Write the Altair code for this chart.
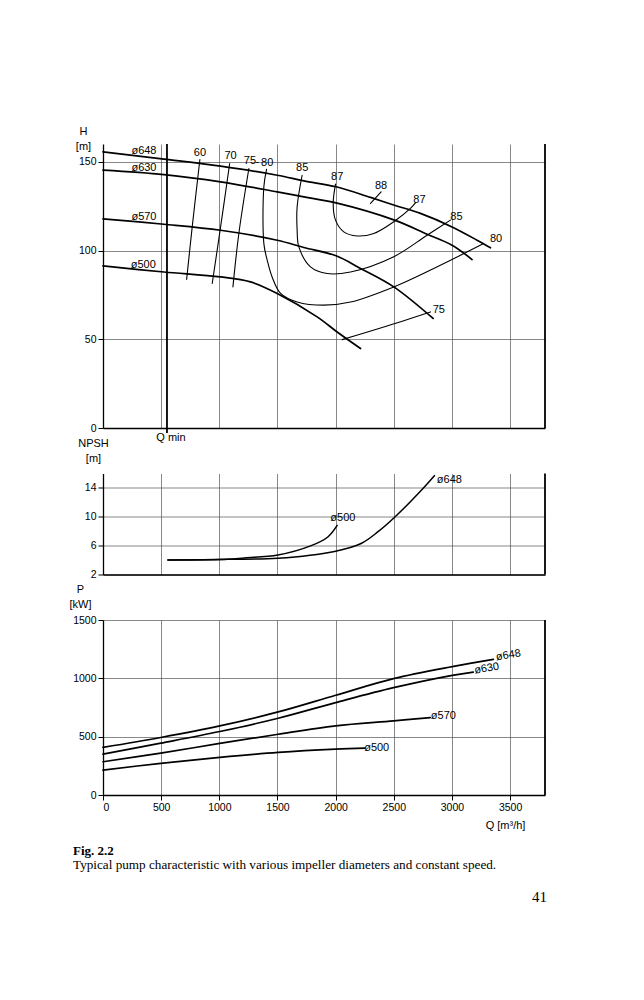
import altair as alt
import pandas as pd

# ---------------- data ----------------
Q_MAX = 3800
Q_MIN = 550
GRID_Q = [500, 1000, 1500, 2000, 2500, 3000, 3500]
TICK_Q = [0, 500, 1000, 1500, 2000, 2500, 3000, 3500]

# H-Q curves (impeller diameters)
H_NAMES = ["d648", "d630", "d570", "d500"]
H648_Q = [0, 524, 1011, 1498, 1727, 2004, 2300, 2506, 2729, 3001, 3216, 3331]
H648_V = [155.6, 151.5, 147.5, 142.4, 139.2, 135.9, 129.9, 125.5, 120.9, 113.3, 105.8, 101.5]
H630_Q = [0, 524, 1011, 1498, 1727, 2004, 2506, 2786, 3001, 3173]
H630_V = [145.3, 142.8, 138.7, 133.0, 130.2, 126.8, 117.1, 109.2, 103.0, 94.9]
H570_Q = [0, 524, 1011, 1498, 1727, 2004, 2214, 2500, 2838]
H570_V = [117.8, 114.8, 111.4, 105.8, 101.7, 97.0, 89.9, 79.5, 61.7]
H500_Q = [0, 524, 1011, 1268, 1498, 1841, 2013, 2214]
H500_V = [91.3, 87.9, 85.1, 82.3, 75.8, 62.6, 54.1, 44.8]

# iso-efficiency contours
E_NAMES = ["e60", "e70", "e75", "e80", "e85", "e87", "e88", "e75b"]
E60_Q = [833, 767, 719]
E60_V = [151.3, 113.3, 83.7]
E70_Q = [1089, 1011, 939]
E70_V = [149.0, 113.3, 81.4]
E75_Q = [1254, 1168, 1117]
E75_V = [146.2, 109.6, 79.5]
E80_Q = [1406, 1383, 1383, 1412, 1454, 1527, 1669, 1899, 2128, 2500, 2844, 3273]
E80_V = [145.7, 135.9, 103.9, 94.5, 85.1, 75.8, 71.0, 69.2, 71.0, 79.5, 89.9, 103.9]
E85_Q = [1712, 1669, 1669, 1684, 1784, 1927, 2128, 2500, 2786, 2987]
E85_V = [142.4, 124.6, 111.4, 102.0, 90.8, 87.0, 87.9, 96.5, 108.6, 117.1]
E87_Q = [1999, 1979, 1999, 2070, 2185, 2328, 2506, 2643, 2686]
E87_V = [137.4, 126.5, 117.1, 110.5, 108.2, 109.6, 116.5, 123.7, 126.8]
E88_Q = [2300, 2391]
E88_V = [126.5, 133.0]
E75B_Q = [2056, 2414, 2815]
E75B_V = [49.8, 56.9, 65.4]

H_LABEL_TEXT = ["ø648", "ø630", "ø570", "ø500", "60", "70", "75", "-", "80", "85",
                "87", "88", "87", "85", "80", "75"]
H_LABEL_Q = [352, 352, 352, 346, 833, 1097, 1263, 1326, 1412, 1712,
             2013, 2391, 2721, 3039, 3379, 2887]
H_LABEL_V = [156.1, 146.2, 118.9, 92.1, 155.2, 153.2, 150.5, 150.0, 149.4, 146.2,
             141.5, 136.2, 128.4, 118.6, 106.4, 66.7]

# NPSH curves
N_NAMES = ["d648", "d500"]
N648_Q = [558, 1074, 1503, 1990, 2219, 2362, 2505, 2749, 2849]
N648_V = [4.0, 4.1, 4.25, 5.2, 6.3, 7.9, 9.9, 13.9, 15.7]
N500_Q = [558, 1074, 1216, 1503, 1790, 1933, 2013]
N500_V = [4.0, 4.1, 4.3, 4.7, 6.0, 7.2, 8.8]
N_LABEL_TEXT = ["ø648", "ø500"]
N_LABEL_Q = [2978, 2062]
N_LABEL_V = [15.05, 9.86]

# Power curves
P_NAMES = ["d648", "d630", "d570", "d500"]
P648_Q = [0, 497, 1004, 1506, 2000, 2498, 3003, 3356]
P648_V = [408, 493, 592, 712, 855, 997, 1100, 1162]
P630_Q = [0, 497, 1004, 1506, 2000, 2498, 3003, 3184]
P630_V = [350, 444, 544, 658, 792, 920, 1026, 1054]
P570_Q = [0, 497, 1004, 1506, 2000, 2498, 2814]
P570_V = [285, 359, 442, 521, 592, 635, 664]
P500_Q = [0, 497, 1004, 1506, 2000, 2252]
P500_V = [214, 271, 322, 365, 393, 402]
P_LABEL_TILT_TEXT = ["ø648", "ø630"]
P_LABEL_TILT_Q = [3485, 3299]
P_LABEL_TILT_V = [1197, 1083]
P_LABEL_FLAT_TEXT = ["ø570", "ø500"]
P_LABEL_FLAT_Q = [2926, 2353]
P_LABEL_FLAT_V = [678, 399]

CAPTION_TITLE = "Fig. 2.2"
CAPTION_TEXT = "Typical pump characteristic with various impeller diameters and constant speed."
PAGE_NO = "41"


def lines_df(names, qs, vs):
    rows = []
    for n, ql, vl in zip(names, qs, vs):
        for i, (q, v) in enumerate(zip(ql, vl)):
            rows.append({"s": n, "q": q, "v": v, "o": i})
    return pd.DataFrame(rows)


def labels_df(texts, qs, vs):
    return pd.DataFrame({"t": texts, "q": qs, "v": vs})


df_h = lines_df(H_NAMES, [H648_Q, H630_Q, H570_Q, H500_Q], [H648_V, H630_V, H570_V, H500_V])
df_e = lines_df(E_NAMES,
                [E60_Q, E70_Q, E75_Q, E80_Q, E85_Q, E87_Q, E88_Q, E75B_Q],
                [E60_V, E70_V, E75_V, E80_V, E85_V, E87_V, E88_V, E75B_V])
df_hl = labels_df(H_LABEL_TEXT, H_LABEL_Q, H_LABEL_V)
df_n = lines_df(N_NAMES, [N648_Q, N500_Q], [N648_V, N500_V])
df_nl = labels_df(N_LABEL_TEXT, N_LABEL_Q, N_LABEL_V)
df_p = lines_df(P_NAMES, [P648_Q, P630_Q, P570_Q, P500_Q], [P648_V, P630_V, P570_V, P500_V])
df_plt = labels_df(P_LABEL_TILT_TEXT, P_LABEL_TILT_Q, P_LABEL_TILT_V)
df_plf = labels_df(P_LABEL_FLAT_TEXT, P_LABEL_FLAT_Q, P_LABEL_FLAT_V)
df_qmin = pd.DataFrame({"q": [Q_MIN], "t": ["Q min"]})
df_one = pd.DataFrame({"t": [CAPTION_TITLE], "u": [CAPTION_TEXT], "p": [PAGE_NO]})

# ---------------- layout ----------------
FONT = "Liberation Sans"
SERIF = "Liberation Serif"
W = 442
HT, HM, HB = 284, 101, 175

xs = alt.Scale(domain=[0, Q_MAX], nice=False, zero=False)

ax_hidden = alt.Axis(values=GRID_Q, grid=True, labels=False, ticks=False,
                     domain=True, title=None)
ax_bottom = alt.Axis(values=TICK_Q, grid=True, labels=True, ticks=True, domain=True,
                     format="d",
                     title="Q [m³/h]", titleAngle=0, titleAnchor="start",
                     titleX=402, titleY=30, titleAlign="center", titleBaseline="middle")

X_TOP = alt.X("q:Q", scale=xs, axis=ax_hidden)
X_BOT = alt.X("q:Q", scale=xs, axis=ax_bottom)

Y_H = alt.Y("v:Q", scale=alt.Scale(domain=[0, 160], nice=False, zero=False),
            axis=alt.Axis(values=[0, 50, 100, 150], grid=True, format="d",
                          title=["H", "[m]"],
                          titleAngle=0, titleAlign="center", titleBaseline="middle",
                          titleX=-20, titleY=-12.5, titleLineHeight=15))
Y_N = alt.Y("v:Q", scale=alt.Scale(domain=[2, 16], nice=False, zero=False),
            axis=alt.Axis(values=[2, 6, 10, 14], grid=True, format="d",
                          title=["NPSH", "[m]"],
                          titleAngle=0, titleAlign="center", titleBaseline="middle",
                          titleX=-10, titleY=-30, titleLineHeight=15))
Y_P = alt.Y("v:Q", scale=alt.Scale(domain=[0, 1500], nice=False, zero=False),
            axis=alt.Axis(values=[0, 500, 1000, 1500], grid=True, format="d",
                          title=["P", "[kW]"],
                          titleAngle=0, titleAlign="center", titleBaseline="middle",
                          titleX=-23, titleY=-30.5, titleLineHeight=15))

LINE = dict(color="black", interpolate="catmull-rom", strokeCap="round")


def border(h):
    return alt.Chart(df_one).mark_rule(color="black", strokeWidth=1.8).encode(
        x=alt.value(W), y=alt.value(0), y2=alt.value(h))


# top panel: H
top = alt.layer(
    alt.Chart(df_h).mark_line(strokeWidth=1.7, **LINE).encode(
        x=X_TOP, y=Y_H, detail="s:N", order="o:Q"),
    alt.Chart(df_e).mark_line(strokeWidth=1.1, **LINE).encode(
        x=X_TOP, y=Y_H, detail="s:N", order="o:Q"),
    alt.Chart(df_hl).mark_text(font=FONT, fontSize=11, color="black").encode(
        x=X_TOP, y=Y_H, text="t:N"),
    alt.Chart(df_qmin).mark_rule(color="black", strokeWidth=1.8).encode(
        x=X_TOP, y=alt.value(0), y2=alt.value(HT + 5)),
    alt.Chart(df_qmin).mark_text(font=FONT, fontSize=11, color="black", dx=4,
                                 baseline="middle").encode(
        x=X_TOP, y=alt.value(HT + 10), text="t:N"),
    border(HT),
).properties(width=W, height=HT)

# middle panel: NPSH
mid = alt.layer(
    alt.Chart(df_n).mark_line(strokeWidth=1.5, **LINE).encode(
        x=X_TOP, y=Y_N, detail="s:N", order="o:Q"),
    alt.Chart(df_nl).mark_text(font=FONT, fontSize=11, color="black").encode(
        x=X_TOP, y=Y_N, text="t:N"),
    border(HM),
).properties(width=W, height=HM)

# bottom panel: P
bot = alt.layer(
    alt.Chart(df_p).mark_line(strokeWidth=1.7, **LINE).encode(
        x=X_BOT, y=Y_P, detail="s:N", order="o:Q"),
    alt.Chart(df_plt).mark_text(font=FONT, fontSize=11, color="black", angle=350).encode(
        x=X_BOT, y=Y_P, text="t:N"),
    alt.Chart(df_plf).mark_text(font=FONT, fontSize=11, color="black").encode(
        x=X_BOT, y=Y_P, text="t:N"),
    border(HB),
    alt.Chart(df_one).mark_text(font=SERIF, fontSize=13, fontWeight="bold", color="black",
                                align="left", baseline="middle").encode(
        x=alt.value(-30), y=alt.value(231), text="t:N"),
    alt.Chart(df_one).mark_text(font=SERIF, fontSize=13.2, color="black",
                                align="left", baseline="middle").encode(
        x=alt.value(-30), y=alt.value(245), text="u:N"),
    alt.Chart(df_one).mark_text(font=SERIF, fontSize=15, color="black",
                                align="right", baseline="middle").encode(
        x=alt.value(444), y=alt.value(277), text="p:N"),
).properties(width=W, height=HB)

chart = alt.vconcat(top, mid, bot, spacing=45.5, bounds="flush").properties(
    padding={"left": 61, "top": 117, "right": 10, "bottom": 20}
).configure_axis(
    labelFont=FONT, labelFontSize=10.5, labelColor="black",
    titleFont=FONT, titleFontSize=11, titleFontWeight="normal", titleColor="black",
    domainColor="black", domainWidth=1.3, tickColor="black", tickWidth=1, tickSize=5,
    labelPadding=2, gridColor="#555", gridWidth=0.7, gridOpacity=1,
).configure_view(stroke=None)

chart.save("out.html", embed_options={"renderer": "svg", "actions": False})
